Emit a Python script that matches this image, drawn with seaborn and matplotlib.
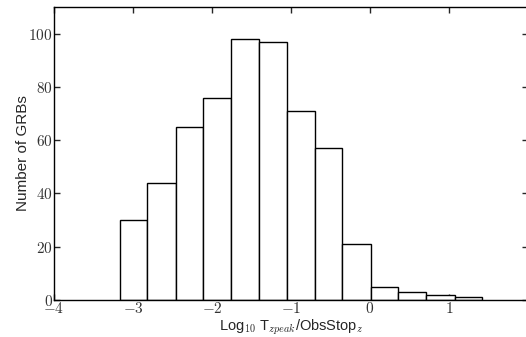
import numpy as np
import pandas as pd
import matplotlib
matplotlib.use("Agg")
import matplotlib.pyplot as plt
import seaborn as sns

# Data
bin_edges = [-3.17, -2.82, -2.46, -2.11, -1.76, -1.40, -1.05, -0.70, -0.35, 0.01, 0.36, 0.71, 1.07, 1.42]
counts = [30, 44, 65, 76, 98, 97, 71, 57, 21, 5, 3, 2, 1]
x_ticks = [-4, -3, -2, -1, 0, 1]
y_ticks = [0, 20, 40, 60, 80, 100]

sns.set_style("ticks")
plt.rcParams["mathtext.fontset"] = "cm"
plt.rcParams["font.family"] = ["Liberation Sans", "DejaVu Sans"]

centers = [(a + b) / 2 for a, b in zip(bin_edges[:-1], bin_edges[1:])]
df = pd.DataFrame({"x": centers, "n": counts})

fig = plt.figure(figsize=(5.26, 3.37), dpi=100)
ax = fig.add_axes([54 / 526, 37 / 337, 474 / 526, 293 / 337])

sns.histplot(data=df, x="x", weights="n", bins=bin_edges, ax=ax,
             color="white", edgecolor="black", linewidth=1.0, alpha=1.0)

ax.set_xlim(-4, 2)
ax.set_ylim(0, 110)
ax.set_xticks(x_ticks)
ax.set_yticks(y_ticks)
ax.set_xticklabels([f"${v}$" if v >= 0 else f"$-{abs(v)}$" for v in x_ticks], fontsize=11, color="#333333")
ax.set_yticklabels([f"${v}$" for v in y_ticks], fontsize=11, color="#333333")
ax.tick_params(direction="in", top=True, right=True, length=4, width=1, pad=1)
for s in ax.spines.values():
    s.set_linewidth(1.0)
    s.set_color("black")

ax.set_xlabel(r"Log$_{10}$ T$_{zpeak}$/ObsStop$_z$", fontsize=10.5, labelpad=1)
ax.set_ylabel("Number of GRBs", fontsize=11, labelpad=-1)

fig.savefig("out.png", dpi=100)
